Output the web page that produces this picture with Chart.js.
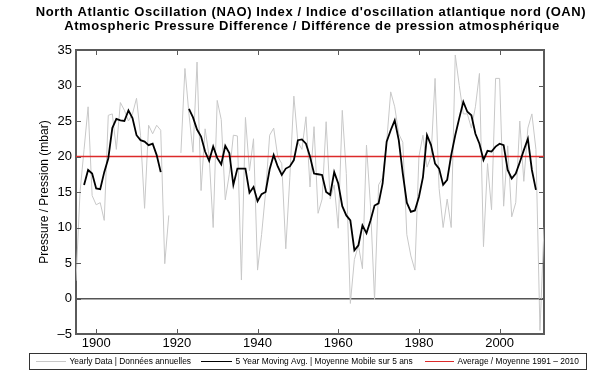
<!DOCTYPE html>
<html lang="en">
<head>
<meta charset="UTF-8">
<title>North Atlantic Oscillation (NAO) Index</title>
<style>
  html, body { margin: 0; padding: 0; background: #fff; }
</style>
</head>
<body>
<canvas id="naoChart" width="605" height="376"></canvas>
<script src="https://cdn.jsdelivr.net/npm/chart.js"></script>
<script>
// yearly values, mbar (1919 and 1920 missing)
const years = [
  1895, 1896, 1897, 1898, 1899,
  1900, 1901, 1902, 1903, 1904, 1905, 1906, 1907, 1908, 1909,
  1910, 1911, 1912, 1913, 1914, 1915, 1916, 1917, 1918, 1919,
  1920, 1921, 1922, 1923, 1924, 1925, 1926, 1927, 1928, 1929,
  1930, 1931, 1932, 1933, 1934, 1935, 1936, 1937, 1938, 1939,
  1940, 1941, 1942, 1943, 1944, 1945, 1946, 1947, 1948, 1949,
  1950, 1951, 1952, 1953, 1954, 1955, 1956, 1957, 1958, 1959,
  1960, 1961, 1962, 1963, 1964, 1965, 1966, 1967, 1968, 1969,
  1970, 1971, 1972, 1973, 1974, 1975, 1976, 1977, 1978, 1979,
  1980, 1981, 1982, 1983, 1984, 1985, 1986, 1987, 1988, 1989,
  1990, 1991, 1992, 1993, 1994, 1995, 1996, 1997, 1998, 1999,
  2000, 2001, 2002, 2003, 2004, 2005, 2006, 2007, 2008, 2009,
  2010, 2011
];

const yearlyData = [
  2.5, 15, 21, 27, 14.5,
  13.2, 13.5, 11, 25.8, 26, 21, 27.6, 26.5, 25, 26,
  28.2, 23, 12.7, 24.4, 23.2, 24.4, 23.7, 4.9, 11.7, null,
  null, 20.5, 32.4, 26, 20.6, 33.3, 15.2, 23.9, 20, 10,
  27.9, 25.2, 13.9, 17.5, 23, 22.9, 2.6, 25.5, 18, 22.5,
  4, 9, 15, 23, 24, 20, 19, 7, 17, 28.5,
  22, 21, 25.6, 15.7, 24.2, 12, 14, 24.9, 14, 16,
  9.9, 26.5, 17.6, -0.7, 5.5, 7.5, 4.2, 21.6, 13, -0.2,
  16, 17, 22, 29.1, 27, 23.2, 22, 9, 6, 4,
  20, 23, 18.5, 20, 31, 15.5, 10, 14, 10, 34.3,
  30, 26, 26, 24, 27, 31.7, 7.3, 19, 12.5, 31,
  31, 13, 21.5, 11.5, 13.5, 25, 16.5, 24, 26, 21,
  -4.5, 10
];

// 5 year moving average, centred
const movingAvg = [
  null, null, 16, 18.1, 17.6,
  15.5, 15.4, 17.8, 19.7, 24, 25.3, 25.1, 25, 26.5, 25.4,
  23, 22.3, 22.1, 21.6, 21.8, 20.2, 17.8, null, null, null,
  null, null, null, 26.7, 25.5, 23.8, 22.8, 20.7, 19.4, 21.4,
  19.8, 18.9, 21.5, 20.5, 16, 18.3, 18.3, 18.3, 14.9, 15.7,
  13.7, 14.7, 15, 18.2, 20.2, 18.6, 17.4, 18.3, 18.6, 19.5,
  22.3, 22.4, 21.8, 20, 17.6, 17.5, 17.4, 15, 14.6, 17.8,
  16.2, 13, 11.7, 11, 6.8, 7.5, 10.3, 9.2, 11, 13.1,
  13.4, 16.2, 22.1, 23.7, 25.1, 22.3, 17.6, 13.5, 12.2, 12.4,
  14.3, 17.1, 23, 21.6, 19, 18.3, 16, 16.7, 20.2, 23,
  25.4, 27.7, 26.3, 25.8, 23.2, 21.8, 19.5, 20.8, 20.7, 21.4,
  21.8, 21.6, 18.1, 16.9, 17.6, 19.2, 20.9, 22.5, 18.1, 15.3,
  null, null
];

const averageValue = 20;
const xRange = [1895, 2011];
const yRange = [-5, 35];
const xTicks = [1900, 1920, 1940, 1960, 1980, 2000];
const yTicks = [-5, 0, 5, 10, 15, 20, 25, 30, 35];

const titleLines = [
  "North Atlantic Oscillation (NAO) Index / Indice d'oscillation atlantique nord (OAN)",
  "Atmospheric Pressure Difference / Différence de pression atmosphérique"
];
const yAxisTitle = 'Pressure / Pression (mbar)';
const legendLabels = [
  'Yearly Data | Données annuelles',
  '5 Year Moving Avg. | Moyenne Mobile sur 5 ans',
  'Average / Moyenne 1991 – 2010'
];

const FONT = '"Liberation Sans", Arial, sans-serif';
const toPoints = arr => years.map((yr, i) => ({ x: yr, y: arr[i] }));

const frameBorder = { display: true, color: 'rgb(90,90,90)', width: 2 };
const hiddenScale = {
  ticks: { display: false },
  grid: { display: false, drawTicks: false },
  border: frameBorder
};

// zero line under the data
const zeroLine = {
  id: 'zeroLine',
  beforeDatasetsDraw(chart) {
    const { ctx, chartArea: a, scales } = chart;
    const y0 = Math.round(scales.y.getPixelForValue(0));
    ctx.save();
    ctx.fillStyle = '#555';
    ctx.fillRect(a.left, y0 - 1, a.right - a.left, 1.5);
    ctx.restore();
  }
};

// short ticks pointing into the plot on all four sides
const innerTicks = {
  id: 'innerTicks',
  afterDraw(chart) {
    const { ctx, chartArea: a, scales } = chart;
    ctx.save();
    ctx.strokeStyle = 'rgb(90,90,90)';
    ctx.lineWidth = 1;
    ctx.beginPath();
    xTicks.forEach(v => {
      const px = Math.round(scales.x.getPixelForValue(v)) + 0.5;
      ctx.moveTo(px, a.bottom); ctx.lineTo(px, a.bottom - 5);
      ctx.moveTo(px, a.top); ctx.lineTo(px, a.top + 5);
    });
    yTicks.forEach(v => {
      const py = Math.round(scales.y.getPixelForValue(v)) + 0.5;
      ctx.moveTo(a.left, py); ctx.lineTo(a.left + 5, py);
      ctx.moveTo(a.right, py); ctx.lineTo(a.right - 5, py);
    });
    ctx.stroke();
    ctx.restore();
  }
};

// two line title and boxed legend
const titleLegend = {
  id: 'titleLegend',
  afterDraw(chart) {
    const ctx = chart.ctx;
    ctx.save();
    ctx.fillStyle = '#000';
    ctx.textAlign = 'center';
    ctx.textBaseline = 'middle';
    ctx.font = 'bold 13px ' + FONT;
    ctx.letterSpacing = '0.6px';
    ctx.fillText(titleLines[0], 311, 12.5);
    ctx.fillText(titleLines[1], 312, 26.5);
    ctx.restore();

    ctx.save();
    ctx.strokeStyle = '#333';
    ctx.lineWidth = 1;
    ctx.strokeRect(29.5, 353.5, 557, 16);
    const ly = 361.5;
    const items = [
      { col: 'rgb(200,200,200)', x0: 36, x1: 66, tx: 69.5 },
      { col: 'rgb(0,0,0)', x0: 201, x1: 232, tx: 235.5 },
      { col: 'rgb(220,42,42)', x0: 425, x1: 454, tx: 457.5 }
    ];
    ctx.font = '8.4px ' + FONT;
    ctx.textAlign = 'left';
    ctx.textBaseline = 'middle';
    items.forEach((it, i) => {
      ctx.strokeStyle = it.col;
      ctx.beginPath();
      ctx.moveTo(it.x0, ly); ctx.lineTo(it.x1, ly);
      ctx.stroke();
      ctx.fillStyle = '#000';
      ctx.fillText(legendLabels[i], it.tx, ly);
    });
    ctx.restore();
  }
};

new Chart(document.getElementById('naoChart'), {
  type: 'line',
  data: {
    datasets: [
      {
        label: legendLabels[1],
        data: toPoints(movingAvg),
        borderColor: '#000',
        borderWidth: 1.8,
        pointRadius: 0,
        spanGaps: false,
        order: 0
      },
      {
        label: legendLabels[2],
        data: [{ x: xRange[0], y: averageValue }, { x: xRange[1], y: averageValue }],
        borderColor: 'rgb(220,42,42)',
        borderWidth: 1.3,
        pointRadius: 0,
        order: 1
      },
      {
        label: legendLabels[0],
        data: toPoints(yearlyData),
        borderColor: 'rgb(200,200,200)',
        borderWidth: 1,
        pointRadius: 0,
        spanGaps: false,
        order: 2
      }
    ]
  },
  options: {
    responsive: false,
    devicePixelRatio: 1,
    animation: false,
    layout: { padding: { top: 50, right: 61, left: 0, bottom: 0 } },
    plugins: {
      legend: { display: false },
      title: { display: false },
      tooltip: { enabled: false }
    },
    scales: {
      x: {
        type: 'linear',
        min: xRange[0],
        max: xRange[1],
        afterBuildTicks: s => { s.ticks = xTicks.map(v => ({ value: v })); },
        afterFit: s => { s.height = 42; },
        grid: { display: false, drawTicks: false },
        border: frameBorder,
        ticks: {
          autoSkip: false,
          maxRotation: 0,
          padding: 2,
          color: '#000',
          font: { family: FONT, size: 13 },
          callback: v => String(v)
        }
      },
      xTop: {
        ...hiddenScale,
        type: 'linear',
        position: 'top',
        min: xRange[0],
        max: xRange[1],
        afterFit: s => { s.height = 0; }
      },
      y: {
        min: yRange[0],
        max: yRange[1],
        afterBuildTicks: s => { s.ticks = yTicks.map(v => ({ value: v })); },
        afterFit: s => { s.width = 76; },
        grid: { display: false, drawTicks: false },
        border: frameBorder,
        ticks: {
          padding: 4,
          color: '#000',
          font: { family: FONT, size: 13 },
          callback: v => (v < 0 ? '\u2013' + Math.abs(v) : String(v))
        },
        title: {
          display: true,
          text: yAxisTitle,
          color: '#000',
          font: { family: FONT, size: 12 },
          padding: { top: 37, bottom: 0 }
        }
      },
      yRight: {
        ...hiddenScale,
        position: 'right',
        min: yRange[0],
        max: yRange[1],
        afterFit: s => { s.width = 0; }
      }
    }
  },
  plugins: [zeroLine, innerTicks, titleLegend]
});
</script>
</body>
</html>
